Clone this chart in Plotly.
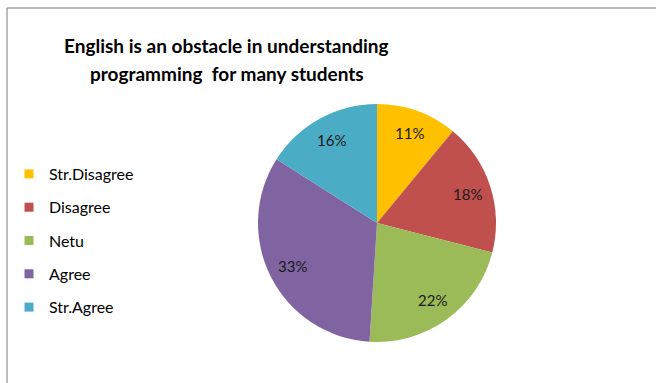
import math
import plotly.graph_objects as go

categories = ["Str.Disagree", "Disagree", "Netu", "Agree", "Str.Agree"]
values = [11, 18, 22, 33, 16]
colors = ["#FFC000", "#C0504D", "#9BBB59", "#8064A2", "#4BACC6"]
title_lines = ["English is an obstacle in understanding", "programming  for many students"]

W, H = 656, 383
cx, cy, r = 377, 223, 119
label_frac = 0.8

fig = go.Figure()
fig.add_trace(go.Pie(
    labels=categories, values=values, sort=False, direction="clockwise", rotation=0,
    marker=dict(colors=colors, line=dict(width=0)),
    textinfo="none",
    showlegend=False, hoverinfo="label+percent",
    domain=dict(x=[(cx - r) / W, (cx + r) / W], y=[(H - cy - r) / H, (H - cy + r) / H]),
))
for i, (cat, col) in enumerate(zip(categories, colors)):
    fig.add_trace(go.Scatter(
        x=[None], y=[None], mode="markers", name=cat, legendgroup=cat,
        marker=dict(symbol="square", size=9, color=col), showlegend=True,
    ))

annotations = []
for i, line in enumerate(title_lines):
    annotations.append(dict(
        text="<b>" + line + "</b>", x=227 / W, y=1 - (45 + 29 * i) / H,
        xref="paper", yref="paper", xanchor="center", yanchor="middle",
        showarrow=False, font=dict(family="Lato", size=19, color="#000000"),
    ))

# percentage labels placed along each slice's mid-angle (derived from the values)
total = sum(values)
cum = 0
for v in values:
    mid = (cum + v / 2) / total * 2 * math.pi
    cum += v
    px = cx + label_frac * r * math.sin(mid)
    py = cy - label_frac * r * math.cos(mid)
    annotations.append(dict(
        text=f"{round(v / total * 100)}%", x=px / W, y=1 - py / H,
        xref="paper", yref="paper", xanchor="center", yanchor="middle",
        showarrow=False, font=dict(family="Lato", size=15, color="#1a1a1a"),
    ))

fig.update_layout(
    width=W, height=H, margin=dict(l=0, r=0, t=0, b=0),
    paper_bgcolor="white", plot_bgcolor="white",
    xaxis=dict(visible=False), yaxis=dict(visible=False),
    annotations=annotations,
    legend=dict(x=9 / W, y=1 - 157 / H, xanchor="left", yanchor="top",
                tracegroupgap=9.5, itemwidth=30,
                font=dict(family="Lato", size=16, color="#000000"),
                bgcolor="rgba(0,0,0,0)"),
    shapes=[
        dict(type="line", xref="paper", yref="paper", x0=7 / W, x1=1, y0=1 - 8 / H, y1=1 - 8 / H,
             line=dict(color="#A6A6A6", width=1.5)),
        dict(type="line", xref="paper", yref="paper", x0=7 / W, x1=7 / W, y0=0, y1=1 - 8 / H,
             line=dict(color="#A6A6A6", width=1.5)),
    ],
)
fig.write_html("out.html")
